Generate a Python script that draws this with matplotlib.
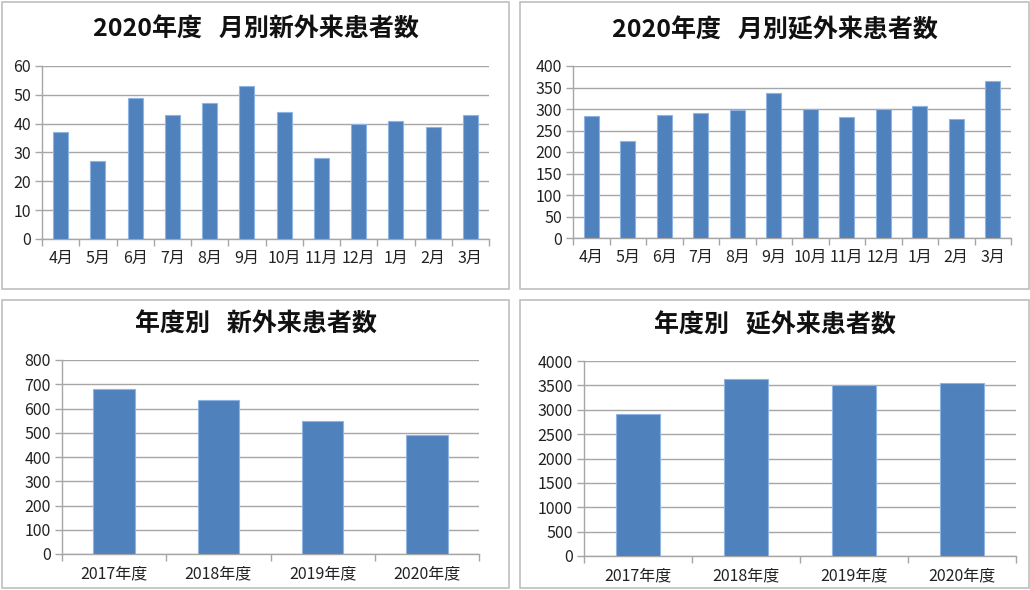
import matplotlib
matplotlib.use("Agg")
import matplotlib.pyplot as plt
from matplotlib.patches import Rectangle
import numpy as np

plt.rcParams['font.family'] = ['Noto Sans CJK JP', 'DejaVu Sans']

# data
months = ["4月", "5月", "6月", "7月", "8月", "9月", "10月", "11月", "12月", "1月", "2月", "3月"]
new_by_month = [37, 27, 49, 43, 47, 53, 44, 28, 40, 41, 39, 43]
total_by_month = [284, 226, 286, 290, 297, 338, 300, 282, 300, 308, 277, 365]

years = ["2017年度", "2018年度", "2019年度", "2020年度"]
new_by_year = [680, 637, 550, 491]
total_by_year = [2920, 3630, 3500, 3553]

W, H = 1030, 590
fig = plt.figure(figsize=(W / 100, H / 100), dpi=100)

BAR = "#4F81BD"
EDGE = "#8EB4E3"
GRID = "#A6A6A6"


def px_axes(x0, y0, x1, y1):
    # pixel box (top-left origin) -> figure axes
    return fig.add_axes([x0 / W, 1 - y1 / H, (x1 - x0) / W, (y1 - y0) / H])


def frame(x0, y0, x1, y1):
    fig.patches.append(Rectangle((x0 / W, 1 - y1 / H), (x1 - x0) / W, (y1 - y0) / H,
                                 transform=fig.transFigure, fill=False,
                                 edgecolor="#BFBFBF", linewidth=1.2))


def panel(box, plot, title, title_y, labels, values, ymax, step):
    frame(*box)
    ax = px_axes(*plot)
    n = len(values)
    x = np.arange(n)
    ax.bar(x, values, width=0.4, color=BAR, edgecolor=EDGE, linewidth=0.8, zorder=3)
    ax.set_xlim(-0.5, n - 0.5)
    ax.set_ylim(0, ymax)
    ax.set_yticks(np.arange(0, ymax + step / 2, step))
    ax.yaxis.grid(True, color=GRID, linewidth=1.0, zorder=0)
    ax.set_axisbelow(True)
    # category axis: ticks between categories, labels centred
    ax.set_xticks(np.arange(-0.5, n, 1.0))
    ax.set_xticklabels([])
    ax.set_xticks(x, minor=True)
    ax.set_xticklabels(labels, minor=True)
    ax.tick_params(axis="x", which="major", length=5, color=GRID, width=1)
    ax.tick_params(axis="x", which="minor", length=0, pad=8, labelsize=11.5, labelcolor="#222222")
    ax.tick_params(axis="y", length=5, color=GRID, width=1, labelsize=11.5, labelcolor="#222222", pad=3)
    for s in ["top", "right"]:
        ax.spines[s].set_visible(False)
    for s in ["left", "bottom"]:
        ax.spines[s].set_color(GRID)
        ax.spines[s].set_linewidth(1.0)
    cx = (box[0] + box[2]) / 2
    fig.text(cx / W, 1 - title_y / H, title, ha="center", va="center",
             fontsize=18, fontweight="bold", color="#111111")
    return ax


panel((2, 2, 509, 289), (42, 66, 489, 239), "2020年度   月別新外来患者数", 30,
      months, new_by_month, 60, 10)
panel((520, 2, 1029, 289), (573, 66, 1011, 238), "2020年度   月別延外来患者数", 30,
      months, total_by_month, 400, 50)
panel((2, 300, 509, 588), (62, 360, 479, 554), "年度別   新外来患者数", 325,
      years, new_by_year, 800, 100)
panel((520, 300, 1029, 588), (584, 361, 1016, 556), "年度別   延外来患者数", 325,
      years, total_by_year, 4000, 500)

fig.savefig("out.png", dpi=100)
